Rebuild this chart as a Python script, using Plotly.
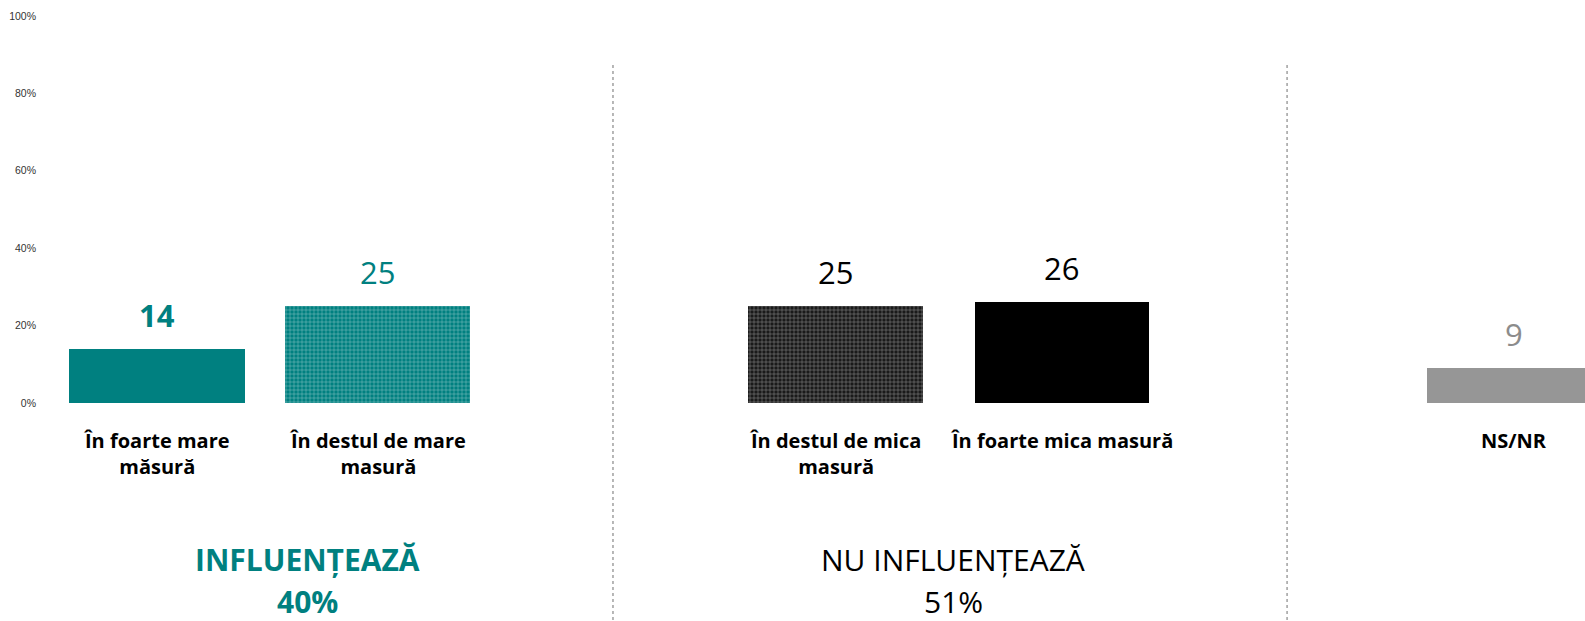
import plotly.graph_objects as go

# ---- data ----
categories = ["În foarte mare<br>măsură", "În destul de mare<br>masură",
              "În destul de mica<br>masură", "În foarte mica masură", "NS/NR"]
values = [14, 25, 25, 26, 9]
positions = [0, 0.975, 3, 4, 6]
value_labels = ["14", "25", "25", "26", "9"]
group_titles = ["INFLUENȚEAZĂ", "NU INFLUENȚEAZĂ"]
group_totals = ["40%", "51%"]
group_pos = [0.667, 3.52]
separators = [2.016, 4.996]
ytick_vals = [0, 20, 40, 60, 80, 100]
ytick_text = ["0%", "20%", "40%", "60%", "80%", "100%"]

TEAL = "#008080"
FONT = "Open Sans"

bar_colors = [TEAL, TEAL, "#1a1a1a", "#000000", "#969696"]
pat_shapes = ["", "+", "+", "", ""]
pat_fg = ["#008080", "#c4e4e4", "#b0b0b0", "#000000", "#969696"]
label_colors = [TEAL, TEAL, "#000000", "#000000", "#8c8c8c"]
label_bold = [True, False, False, False, False]

fig = go.Figure()
fig.add_trace(go.Bar(
    x=positions, y=values, width=[0.775, 0.82, 0.77, 0.77, 0.775],
    marker=dict(color=bar_colors, line=dict(width=0),
                pattern=dict(shape=pat_shapes, fgcolor=pat_fg, fgopacity=0.8,
                             size=4, solidity=0.15, fillmode="overlay")),
    hoverinfo="skip", showlegend=False,
))

anns = []
for p, v, t, c, b in zip(positions, values, value_labels, label_colors, label_bold):
    anns.append(dict(x=p, y=v, xref="x", yref="y", text=f"<b>{t}</b>" if b else t,
                     showarrow=False, yanchor="middle", yshift=34,
                     font=dict(family=FONT, size=31, color=c)))
for p, cat in zip(positions, categories):
    anns.append(dict(x=p, y=-5.6, xref="x", yref="y", text=f"<b>{cat}</b>",
                     showarrow=False, yanchor="top", align="center",
                     font=dict(family=FONT, size=20, color="#000000")))
for i, (p, t, tot) in enumerate(zip(group_pos, group_titles, group_totals)):
    col = TEAL if i == 0 else "#000000"
    bt = f"<b>{t}</b>" if i == 0 else t
    btot = f"<b>{tot}</b>" if i == 0 else tot
    anns.append(dict(x=p, y=-40.3, xref="x", yref="y", text=bt, showarrow=False,
                     yanchor="middle", font=dict(family=FONT, size=30, color=col)))
    anns.append(dict(x=p, y=-51.2, xref="x", yref="y", text=btot, showarrow=False,
                     yanchor="middle", font=dict(family=FONT, size=30, color=col)))

shapes = []
for s in separators:
    shapes.append(dict(type="line", xref="x", yref="y", x0=s, x1=s, y0=87.3, y1=-57,
                       line=dict(color="#a0a0a0", width=1.5, dash="dot")))

fig.update_layout(
    width=1585, height=621,
    margin=dict(l=40, r=0, t=0, b=0),
    paper_bgcolor="white", plot_bgcolor="white",
    xaxis=dict(range=[-0.517, 6.313], showgrid=False, zeroline=False,
               showticklabels=False, showline=False, ticks=""),
    yaxis=dict(range=[-56.3, 104.1], tickvals=ytick_vals, ticktext=ytick_text,
               showgrid=False, zeroline=False, showline=False, ticks="",
               ticklabelstandoff=3,
               tickfont=dict(family="Liberation Sans", size=10.5, color="#333333")),
    annotations=anns, shapes=shapes, bargap=0,
)

fig.write_html("out.html", config={"displayModeBar": False},
               post_script="document.body.style.margin='0';document.body.style.overflow='hidden';")
